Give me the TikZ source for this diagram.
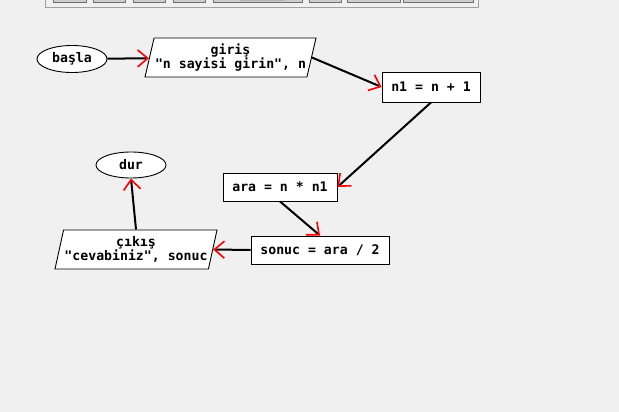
\documentclass[tikz,border=0pt]{standalone}
\usepackage{fontspec}
\setmonofont{DejaVu Sans Mono}
\usepackage{xcolor}
\usepackage{tikz}
\usetikzlibrary{arrows.meta,shapes.geometric}

\definecolor{bg}{HTML}{F0F0F0}
\definecolor{panel}{HTML}{A0A0A0}
\definecolor{btn}{HTML}{707070}

\begin{document}
\begin{tikzpicture}[
  x=1pt, y=-1pt,
  box/.style={draw, fill=white, line width=0.9pt, inner sep=0pt,
    font=\ttfamily\bfseries\fontsize{13.2}{14.5}\selectfont},
  proc/.style={box, rectangle},
  term/.style={box, ellipse, minimum width=70pt, minimum height=27pt},
  io/.style={box, trapezium, trapezium left angle=72, trapezium right angle=108,
    trapezium stretches body, minimum height=39pt, align=center},
  arr/.style={line width=2pt,
    -{Straight Barb[color=red, length=10pt, width=17pt, line width=1.6pt]}}
]
  \useasboundingbox[fill=bg] (0,0) rectangle (619,412);

  % toolbar at the top
  \draw[panel, fill=bg] (45,-5) rectangle (478,7);
  \foreach \a/\b in {53/86, 93/125, 133/165, 173/205, 213/302, 309/341, 347/400, 403/473}
    \draw[btn, fill=bg!85!black] (\a,-6) rectangle (\b,2);
  \fill[bg!75!black] (240,-3) rectangle (285,1.5);

  \node[term] (basla) at (72,59) {başla};
  \node[io, minimum width=171pt] (giris) at (230.5,57.5) {giriş\\"n sayisi girin", n};
  \node[proc, minimum width=98pt, minimum height=30pt] (n1) at (431,87) {n1 = n + 1};
  \node[proc, minimum width=114pt, minimum height=28pt] (ara) at (280,187) {ara = n * n1};
  \node[proc, minimum width=138pt, minimum height=28pt] (sonuc) at (320,250) {sonuc = ara / 2};
  \node[io, minimum width=162pt] (cikis) at (136,249.5) {çıkış\\"cevabiniz", sonuc};
  \node[term, minimum height=26pt] (dur) at (131,165) {dur};

  \draw[arr] (basla) -- (giris);
  \draw[arr] (giris.east) -- (n1.west);
  \draw[arr] (n1.south) -- (ara.east);
  \draw[arr] (ara.south) -- (sonuc.north);
  \draw[arr] (sonuc.west) -- (cikis.east);
  \draw[arr] (cikis.north) -- (dur.south);
\end{tikzpicture}
\end{document}
